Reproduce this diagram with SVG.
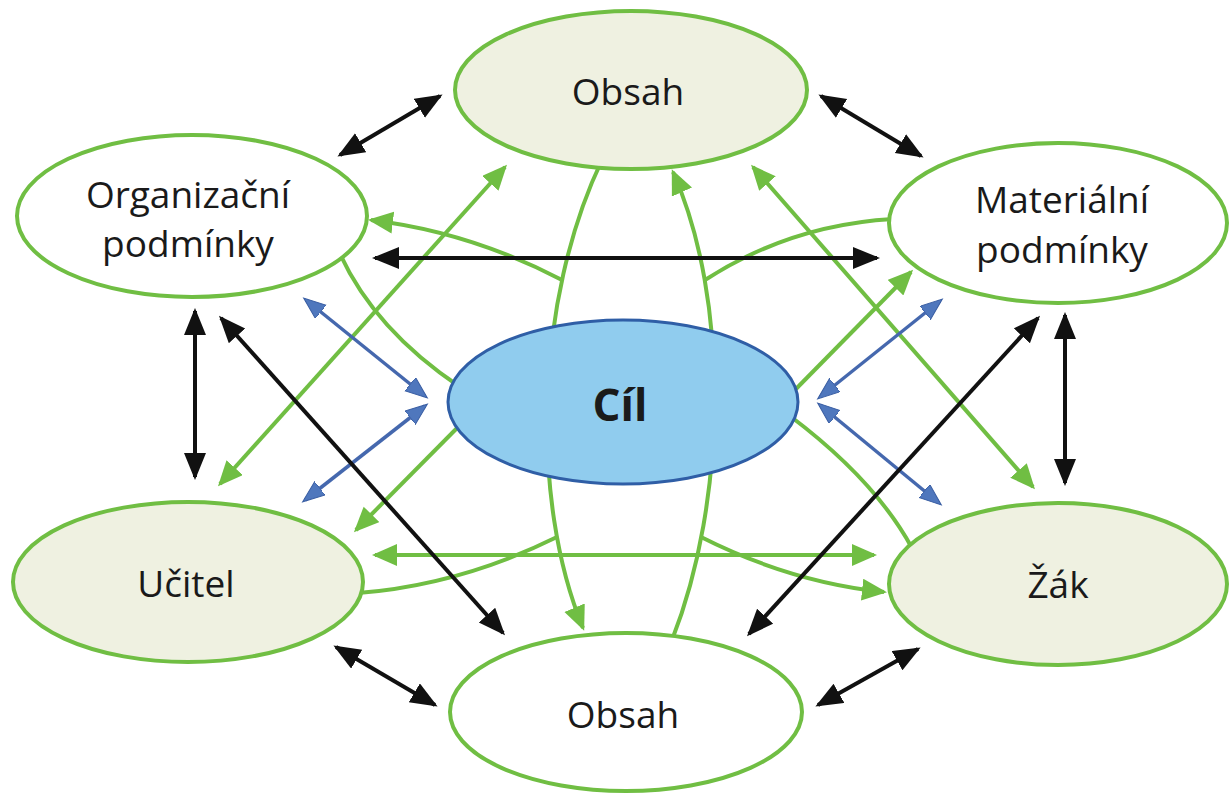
<svg xmlns="http://www.w3.org/2000/svg" width="1229" height="794" viewBox="0 0 1229 794">
<style>
.bg{fill:#ffffff}
.nd{stroke:#70be43;stroke-width:4}
.plain{fill:#ffffff}
.tint{fill:#eff1e1}
.goal{fill:#90ccee;stroke:#2f5ea6;stroke-width:3}
.lbl{font-family:"Open Sans","Noto Sans","DejaVu Sans",sans-serif;font-size:37px;fill:#1a1a1a;text-anchor:middle}
.big{font-size:44px;font-weight:bold}
.blk{stroke:#111111;stroke-width:4;fill:none;marker-start:url(#ab);marker-end:url(#ab)}
.grn{stroke:#70be43;stroke-width:4;fill:none}
.g2{marker-start:url(#ag);marker-end:url(#ag)}
.g1{marker-end:url(#ag)}
.blu{stroke:#4568ae;stroke-width:3.5;fill:none;marker-start:url(#abl);marker-end:url(#abl)}
</style>
<defs>
<marker id="ab" markerUnits="userSpaceOnUse" markerWidth="30" markerHeight="24" refX="24" refY="11" orient="auto-start-reverse"><path d="M0,0 L27,11 L0,22 z" fill="#111111"/></marker>
<marker id="ag" markerUnits="userSpaceOnUse" markerWidth="30" markerHeight="24" refX="22" refY="11" orient="auto-start-reverse"><path d="M0,0 L25,11 L0,22 z" fill="#70be43"/></marker>
<marker id="abl" markerUnits="userSpaceOnUse" markerWidth="26" markerHeight="18" refX="19" refY="8.5" orient="auto-start-reverse"><path d="M0,0 L22,8.5 L0,17 z" fill="#4f77bd" stroke="#3a5ea3" stroke-width="1"/></marker>
</defs>
<rect class="bg" x="0" y="0" width="1229" height="794"/>
<g id="connectors">
<path class="grn g1" d="M602,160 C535,300 530,500 583,628"/>
<path class="grn g1" d="M672,640 C727,500 730,300 673,172"/>
<path class="grn g1" d="M562,280 Q470,232 371,220"/>
<path class="grn" d="M340,254 Q375,330 460,387"/>
<path class="grn" d="M893,219 Q790,225 705,280"/>
<path class="grn g1" d="M790,395 L911,272"/>
<path class="grn g1" d="M465,420 L356,530"/>
<path class="grn" d="M790,416 Q875,480 912,548"/>
<path class="grn g1" d="M701,537 Q790,582 884,592"/>
<path class="grn" d="M557,537 Q460,585 358,593"/>
<path class="grn g2" d="M220,484 L505,167"/>
<path class="grn g2" d="M753,167 L1033,487"/>
<path class="grn g2" d="M375,555 L874,555"/>
<path class="blu" d="M306,300 L425,396"/>
<path class="blu" d="M425,406 L305,500"/>
<path class="blu" d="M940,301 L820,397"/>
<path class="blu" d="M820,405 L939,503"/>
<path class="blk" d="M340,155 L440,96"/>
<path class="blk" d="M821,96 L921,156"/>
<path class="blk" d="M375,258 L877,258"/>
<path class="blk" d="M195,311 L195,477"/>
<path class="blk" d="M221,318 L503,633"/>
<path class="blk" d="M1065,315 L1065,483"/>
<path class="blk" d="M1038,318 L749,634"/>
<path class="blk" d="M336,647 L435,705"/>
<path class="blk" d="M818,705 L918,649"/>
</g>
<g id="obsah-top">
<ellipse class="nd tint" cx="631" cy="90" rx="176" ry="79"/>
<text class="lbl" x="628" y="105">Obsah</text>
</g>
<g id="organizacni">
<ellipse class="nd plain" cx="192" cy="216" rx="175" ry="81"/>
<text class="lbl" x="188" y="208">Organizační</text>
<text class="lbl" x="188" y="257">podmínky</text>
</g>
<g id="materialni">
<ellipse class="nd plain" cx="1058" cy="223" rx="169" ry="80"/>
<text class="lbl" x="1062" y="213">Materiální</text>
<text class="lbl" x="1062" y="263">podmínky</text>
</g>
<g id="cil">
<ellipse class="goal" cx="623" cy="402" rx="175" ry="82"/>
<text class="lbl big" x="620" y="421">Cíl</text>
</g>
<g id="ucitel">
<ellipse class="nd tint" cx="188" cy="582" rx="175" ry="80"/>
<text class="lbl" x="186" y="597">Učitel</text>
</g>
<g id="zak">
<ellipse class="nd tint" cx="1058" cy="584" rx="169" ry="81"/>
<text class="lbl" x="1058" y="598">Žák</text>
</g>
<g id="obsah-bottom">
<ellipse class="nd plain" cx="626" cy="712" rx="176" ry="79"/>
<text class="lbl" x="623" y="728">Obsah</text>
</g>
</svg>
